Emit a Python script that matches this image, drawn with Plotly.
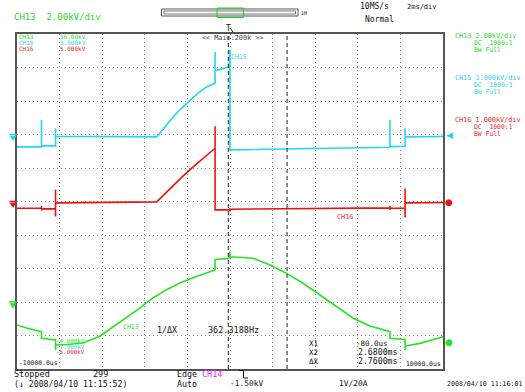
import plotly.graph_objects as go

# ---------------- data (time in ms, voltage in kV) ----------------
t_ch13 = [-10.0, -9.48, -8.85, -8.85, -8.19, -8.19, -8.19, -7.67, -6.89, -6.10, -5.49, -4.88,
          -4.23, -3.62, -3.00, -2.35, -1.64, -0.70, -0.70, -0.05, 0.0, 0.0, 1.08, 1.88, 2.66,
          3.43, 4.23, 5.01, 5.79, 6.57, 7.51, 7.51, 8.22, 8.22, 8.22, 8.92, 10.0]
v_ch13 = [-1.37, -1.58, -1.77, -2.17, -2.27, -2.87, -2.57, -2.54, -2.45, -2.03, -1.49, -0.96,
          -0.36, 0.24, 0.72, 1.13, 1.49, 1.91, 2.54, 2.60, 3.00, 2.70, 2.61, 2.21, 1.71,
          1.12, 0.42, -0.28, -0.97, -1.43, -1.77, -2.17, -2.24, -2.87, -2.63, -2.47, -2.07]

t_ch15 = [-10.0, -8.85, -8.85, -8.85, -8.19, -8.19, -8.19, -3.44, -3.05, -2.66, -2.27, -1.88,
          -1.49, -1.09, -0.70, -0.70, -0.70, -0.05, 0.0, 0.0, 3.0, 7.51, 7.51, 7.51,
          8.22, 8.22, 8.22, 10.0]
v_ch15 = [-0.37, -0.37, 0.43, -0.34, -0.34, 0.19, -0.05, -0.07, 0.23, 0.53, 0.79, 1.03,
          1.24, 1.42, 1.53, 2.46, 1.90, 2.02, 2.52, -0.46, -0.43, -0.38, 0.43, -0.36,
          -0.35, 0.19, -0.07, -0.06]

t_ch16 = [-10.0, -8.85, -8.85, -8.85, -8.85, -8.19, -8.19, -8.19, -8.19, -3.44, -3.05, -2.66,
          -2.27, -1.88, -1.49, -1.09, -0.70, -0.70, -0.70, 0.0, 0.0, 0.0, 0.0, 7.51, 7.51,
          7.51, 7.51, 8.22, 8.22, 8.22, 8.22, 10.0]
v_ch16 = [-0.20, -0.20, -0.13, -0.27, -0.22, -0.22, 0.36, -0.45, -0.04, -0.01, 0.24, 0.48,
          0.72, 0.95, 1.17, 1.39, 1.59, 2.25, -0.25, -0.25, -0.20, -0.30, -0.23, -0.19, -0.13,
          -0.25, -0.20, -0.20, 0.39, -0.47, -0.04, -0.03]

x_range = [-10, 10]          # 2 ms/div
ch13_range = [-4.0, 16.0]    # 2 kV/div
ch15_range = [-7.0, 3.0]     # 1 kV/div
ch16_range = [-5.0, 5.0]     # 1 kV/div
cursor_x1 = -0.08
cursor_x2 = 2.68

GREEN = "#22e622"
CYAN = "#22d8ee"
RED = "#ee1111"
GTXT = "#2ad82a"
CTXT = "#33ccee"
RTXT = "#ee2222"
MONO = "DejaVu Sans Mono"

# plot area in pixels
L, R, T, B = 17, 443, 34, 369
W, H = R - L, B - T

fig = go.Figure()
fig.add_trace(go.Scatter(x=t_ch13, y=v_ch13, mode="lines", line=dict(color=GREEN, width=1.6),
                         yaxis="y", hoverinfo="skip"))
fig.add_trace(go.Scatter(x=t_ch15, y=v_ch15, mode="lines", line=dict(color=CYAN, width=1.6),
                         yaxis="y2", hoverinfo="skip"))
fig.add_trace(go.Scatter(x=t_ch16, y=v_ch16, mode="lines", line=dict(color=RED, width=1.6),
                         yaxis="y3", hoverinfo="skip"))

ann = []


def px(X):
    return (X - L) / W


def py(Y):
    return (B - Y) / H


def zero_pix(rng):
    lo, hi = rng
    return T + H * hi / (hi - lo)


def lab(text, X, Y, color="#111", size=8, anchor="left"):
    ann.append(dict(text=text, x=px(X), y=py(Y), xref="paper", yref="paper",
                    xanchor=anchor, yanchor="middle", showarrow=False, borderpad=0,
                    font=dict(family=MONO, size=size, color=color)))


# header
lab("CH13  2.00kV/div", 13, 17, GTXT, 9)
lab("1M", 300, 13, "#333", 5)
lab("10MS/s", 359, 7, "#111", 8)
lab("2ms/div", 406, 7, "#111", 7)
lab("Normal", 364, 19, "#111", 8)

# right panel
for (txt_color, y0, name) in [(GTXT, 36, "CH13 2.00kV/div"), (CTXT, 78, "CH15 1.000kV/div"),
                              (RTXT, 120, "CH16 1.000kV/div")]:
    lab(name, 454, y0, txt_color, 6.8)
    lab("DC  1000:1", 473, y0 + 7, txt_color, 6.4)
    lab("BW Full", 473, y0 + 14, txt_color, 6.4)

# inside top-left scale labels
lab("CH13", 18, 37, GTXT, 6.0)
lab("16.00kV", 59, 37, GTXT, 6.0)
lab("CH15", 18, 42.5, CTXT, 6.0)
lab("3.000kV", 59, 42.5, CTXT, 6.0)
lab("CH16", 18, 48, RTXT, 6.0)
lab("5.000kV", 59, 48, RTXT, 6.0)
lab("<< Main:200k >>", 201, 38, "#444", 6.8)
lab("T", 225, 28, "#111", 8)

# trace labels
lab("CH15", 230, 57, CTXT, 6.5)
lab("CH16", 336, 216.5, RTXT, 6.8)
lab("CH13", 122, 327, GTXT, 6.5)

# measurement text
lab("1/ΔX", 156, 330, "#111", 8.3)
lab("362.3188Hz", 207, 330, "#111", 8.5)
lab("X1", 308, 343, "#111", 7.5)
lab("X2", 308, 352, "#111", 7.5)
lab("ΔX", 308, 361, "#111", 7.5)
lab("-80.0us", 355, 343, "#111", 7.5)
lab("2.6800ms", 357, 352, "#111", 8.2)
lab("2.7600ms", 357, 361, "#111", 8.2)
lab("10000.0us", 405, 364, "#111", 6.4)
lab("-4.000kV", 55, 341.2, GTXT, 5.9)
lab("-7.000kV", 55, 346.8, CTXT, 5.9)
lab("-5.000kV", 55, 352.4, RTXT, 5.9)
lab("-10000.0us", 18, 363, "#111", 6.4)

# footer
lab("Stopped", 13, 374, "#111", 8.5)
lab("299", 92, 374, "#111", 8.5)
lab("Edge", 176, 374, "#111", 8.3)
lab("CH14", 201, 374, "#ee22ee", 8.5)
lab("(↓ 2008/04/10 11:15:52)", 13, 384, "#111", 8.2)
lab("Auto", 176, 384, "#111", 8.3)
lab("-1.50kV", 229, 384, "#111", 7.9)
lab("1V/20A", 338, 384, "#111", 7.9)
lab("2008/04/10 11:16:01", 523, 384, "#111", 6.6, anchor="right")

shapes = []

# channel ground markers on the left edge
for rng, col in [(ch13_range, GREEN), (ch15_range, CYAN), (ch16_range, RED)]:
    zy = zero_pix(rng)
    shapes.append(dict(type="line", xref="paper", yref="paper", x0=px(9.5), x1=px(16.5),
                       y0=py(zy), y1=py(zy), line=dict(color=col, width=1.5)))
    shapes.append(dict(type="path", xref="paper", yref="paper",
                       path=f"M {px(10)},{py(zy + 1.5)} L {px(16)},{py(zy + 1.5)} "
                            f"L {px(13)},{py(zy + 6)} Z",
                       fillcolor=col, line=dict(color=col, width=0.5)))

# right-hand markers
ann.append(dict(text="◀", x=px(449), y=0, xref="paper", yref="y2", xanchor="center",
                yanchor="middle", showarrow=False, borderpad=0,
                font=dict(family="DejaVu Sans", size=9, color=CYAN)))
ann.append(dict(text="●", x=px(449), y=0, xref="paper", yref="y3", xanchor="center",
                yanchor="middle", showarrow=False, borderpad=0,
                font=dict(family="DejaVu Sans", size=9, color=RED)))
ann.append(dict(text="●", x=px(449), y=py(342), xref="paper", yref="paper", xanchor="center",
                yanchor="middle", showarrow=False, borderpad=0,
                font=dict(family="DejaVu Sans", size=9, color=GREEN)))

# cursors
for cx in (cursor_x1, cursor_x2):
    shapes.append(dict(type="line", xref="x", yref="paper", x0=cx, x1=cx, y0=0, y1=1,
                       line=dict(color="#222", width=1, dash="4px,3px")))
# zoom bar
shapes.append(dict(type="rect", xref="paper", yref="paper", x0=px(161.5), x1=px(298),
                   y0=py(16), y1=py(9), line=dict(color="#555", width=1)))
shapes.append(dict(type="rect", xref="paper", yref="paper", x0=px(164), x1=px(295.5),
                   y0=py(14), y1=py(11), line=dict(color="#777", width=1)))
shapes.append(dict(type="rect", xref="paper", yref="paper", x0=px(217), x1=px(243.5),
                   y0=py(17.5), y1=py(8), line=dict(color="#22cc22", width=1)))
# T arrow
shapes.append(dict(type="line", xref="paper", yref="paper", x0=px(230), x1=px(233),
                   y0=py(28), y1=py(32), line=dict(color="#111", width=1)))
# trigger edge symbol
shapes.append(dict(type="path", xref="paper", yref="paper",
                   path=f"M {px(239)},{py(370.5)} L {px(243.5)},{py(370.5)} L {px(243.5)},{py(378)} "
                        f"L {px(248)},{py(378)}",
                   line=dict(color="#111", width=1)))

grid = dict(showgrid=True, gridcolor="#8a8a8a", gridwidth=1, griddash="1px,3px",
            zeroline=False, showticklabels=False, ticks="", showline=True, mirror=True,
            linecolor="#555", linewidth=2)

fig.update_layout(
    width=525, height=392,
    margin=dict(l=L, r=525 - R, t=T, b=392 - B),
    paper_bgcolor="white", plot_bgcolor="white",
    showlegend=False,
    xaxis=dict(range=x_range, dtick=2, tick0=-10, **grid),
    yaxis=dict(range=ch13_range, dtick=2, tick0=-4, **grid),
    yaxis2=dict(range=ch15_range, overlaying="y", anchor="x", visible=False),
    yaxis3=dict(range=ch16_range, overlaying="y", anchor="x", visible=False),
    annotations=ann,
    shapes=shapes,
)

fig.write_html("out.html")
